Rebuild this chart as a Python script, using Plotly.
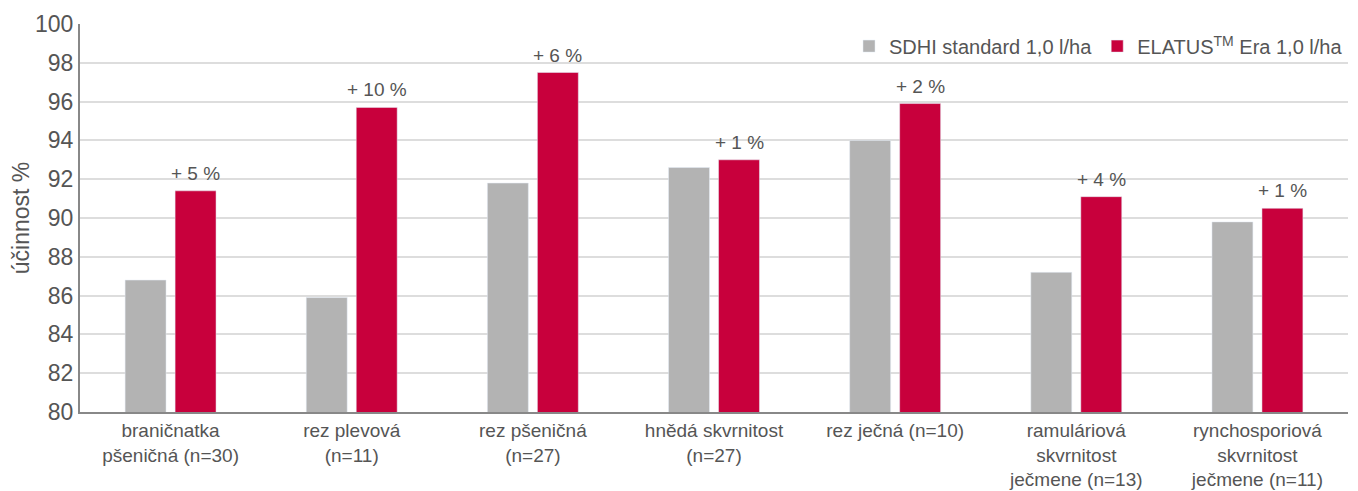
import plotly.graph_objects as go

categories = [
    "braničnatka<br>pšeničná (n=30)",
    "rez plevová<br>(n=11)",
    "rez pšeničná<br>(n=27)",
    "hnědá skvrnitost<br>(n=27)",
    "rez ječná (n=10)",
    "ramuláriová<br>skvrnitost<br>ječmene (n=13)",
    "rynchosporiová<br>skvrnitost<br>ječmene (n=11)",
]
sdhi_values = [86.8, 85.9, 91.8, 92.6, 94.0, 87.2, 89.8]
elatus_values = [91.4, 95.7, 97.5, 93.0, 95.9, 91.1, 90.5]
gain_labels = ["+ 5 %", "+ 10 %", "+ 6 %", "+ 1 %", "+ 2 %", "+ 4 %", "+ 1 %"]
y_ticks = list(range(80, 101, 2))

BAR_W = 0.226
TXT = "#555555"

fig = go.Figure()

fig.add_trace(go.Bar(
    x=categories, y=sdhi_values,
    name="SDHI standard 1,0 l/ha",
    marker_color="#b3b3b3",
    width=BAR_W, offset=-0.251,
))

fig.add_trace(go.Bar(
    x=categories, y=elatus_values,
    name="ELATUS<sup>TM</sup> Era 1,0 l/ha",
    marker_color="#c8003c",
    width=BAR_W, offset=0.025,
))

# gain labels above the red bars
for cat, val, lab in zip(categories, elatus_values, gain_labels):
    fig.add_annotation(
        x=cat, y=val, text=lab,
        showarrow=False, yanchor="bottom",
        xshift=25, yshift=5,
        font=dict(size=19, color=TXT),
    )

# page body has an 8px margin, so the figure is drawn 8px smaller
fig.update_layout(
    width=1350, height=483,
    margin=dict(l=72, r=10, t=16, b=79),
    plot_bgcolor="white",
    paper_bgcolor="white",
    font=dict(family="Liberation Sans, Arial, sans-serif", color=TXT),
    barmode="overlay",
    showlegend=True,
    legend=dict(
        orientation="h",
        x=1.0, xanchor="right",
        y=0.943, yanchor="middle",
        font=dict(size=20, color=TXT),
        bgcolor="rgba(0,0,0,0)",
        itemwidth=30,
    ),
)

fig.update_yaxes(
    range=[80, 100],
    tickvals=y_ticks,
    tickfont=dict(size=23, color=TXT),
    showgrid=True, gridcolor="#dddddd", gridwidth=1.5,
    showline=True, linecolor="#888888", linewidth=2,
    ticks="", zeroline=False, automargin=False,
    title=dict(text="účinnost %", font=dict(size=23, color=TXT), standoff=8),
)

fig.update_xaxes(
    tickfont=dict(size=19, color=TXT),
    showline=True, linecolor="#888888", linewidth=2,
    ticks="", automargin=False,
)

fig.write_html("out.html")
